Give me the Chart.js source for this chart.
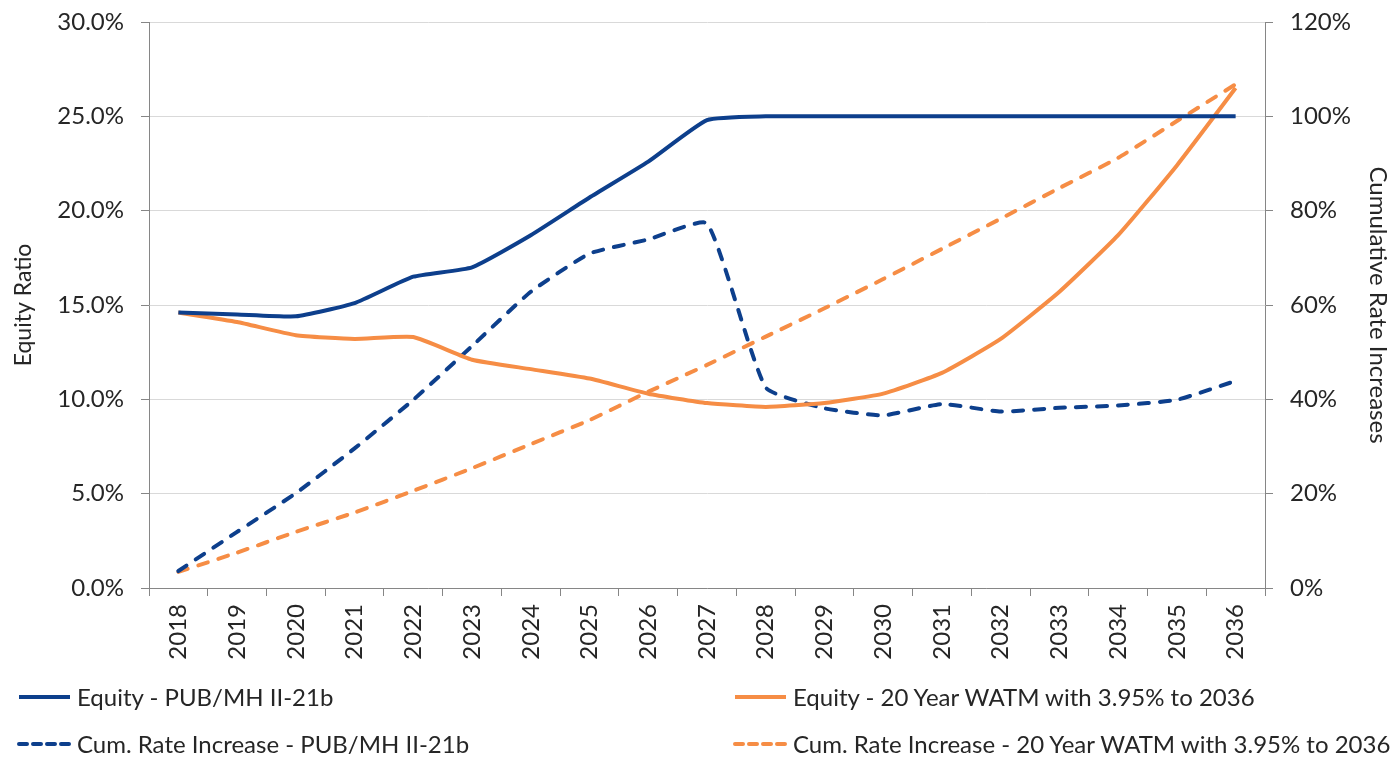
<!DOCTYPE html>
<html>
<head>
<meta charset="utf-8">
<title>Equity Ratio and Cumulative Rate Increases</title>
<script src="https://cdn.jsdelivr.net/npm/chart.js@4.4.1/dist/chart.umd.min.js"></script>
<style>
  body { margin: 0; background: #fff; font-family: Lato, sans-serif; }
  #wrap { position: relative; width: 1393px; height: 757px; }
  .leg { position: absolute; display: flex; align-items: center; font-size: 24px; color: #262626; white-space: nowrap; }
  .leg svg { margin-right: 4px; }
</style>
</head>
<body>
<div id="wrap">
  <canvas id="chart"></canvas>
  <div id="legend"></div>
</div>
<script>
// Years on the x axis
const YEARS = ['2018', '2019', '2020', '2021', '2022', '2023', '2024', '2025', '2026', '2027',
               '2028', '2029', '2030', '2031', '2032', '2033', '2034', '2035', '2036'];

// Equity ratio (%), left axis
const EQUITY_PUB  = [14.6, 14.5, 14.4, 15.1, 16.5, 17.0, 18.7, 20.7, 22.6, 24.8,
                     25.0, 25.0, 25.0, 25.0, 25.0, 25.0, 25.0, 25.0, 25.0];
const EQUITY_WATM = [14.6, 14.1, 13.4, 13.2, 13.3, 12.1, 11.6, 11.1, 10.3, 9.8,
                     9.6, 9.8, 10.3, 11.4, 13.2, 15.7, 18.7, 22.4, 26.5];

// Cumulative rate increases (%), right axis
const CUM_PUB  = [3.6, 11.9, 20.1, 29.6, 39.9, 51.3, 62.8, 70.9, 73.9, 77.3,
                  42.5, 38.1, 36.6, 39.0, 37.4, 38.2, 38.7, 39.9, 43.9];
const CUM_WATM = [3.4, 7.5, 11.9, 16.0, 20.6, 25.4, 30.5, 35.6, 41.6, 47.3,
                  53.3, 59.3, 65.5, 71.9, 78.3, 84.8, 91.2, 99.0, 106.8];

const BLUE = '#0d3f8c';
const ORANGE = '#f68d45';
const FONT = 'Lato, sans-serif';
const TEXT = '#262626';

const datasets = [
    { label: 'Equity - PUB/MH II-21b', data: EQUITY_PUB, yAxisID: 'y', borderColor: BLUE, dash: [] },
    { label: 'Equity - 20 Year WATM with 3.95% to 2036', data: EQUITY_WATM, yAxisID: 'y', borderColor: ORANGE, dash: [] },
    { label: 'Cum. Rate Increase - PUB/MH II-21b', data: CUM_PUB, yAxisID: 'y1', borderColor: BLUE, dash: [10, 11] },
    { label: 'Cum. Rate Increase - 20 Year WATM with 3.95% to 2036', data: CUM_WATM, yAxisID: 'y1', borderColor: ORANGE, dash: [10, 11] }
].map(d => ({
    label: d.label,
    data: d.data,
    yAxisID: d.yAxisID,
    borderColor: d.borderColor,
    backgroundColor: d.borderColor,
    borderDash: d.dash,
    borderWidth: 4,
    borderCapStyle: d.dash.length ? 'round' : 'butt',
    pointRadius: 0,
    tension: 0.15,
    fill: false
}));

// fix the axis box sizes so the plot area sits where the reference has it
function fixWidth(w) {
    return s => { s.width = w; s.paddingTop = 0; s.paddingBottom = 0; };
}

new Chart(document.getElementById('chart'), {
    type: 'line',
    data: { labels: YEARS, datasets: datasets },
    options: {
        responsive: true,
        maintainAspectRatio: false,
        animation: false,
        layout: { padding: { top: 22, left: 0, right: 0, bottom: 0 } },
        plugins: {
            legend: { display: false },
            tooltip: { enabled: false }
        },
        scales: {
            x: {
                offset: true,
                grid: { offset: true, drawOnChartArea: false, color: '#868686', tickLength: 8 },
                border: { color: '#868686' },
                ticks: { color: TEXT, font: { family: FONT, size: 24 }, minRotation: 90, maxRotation: 90, padding: 8 },
                afterFit: s => { s.height = 169; s.paddingTop = 0; }
            },
            y: {
                position: 'left',
                min: 0, max: 30,
                grid: { color: '#d9d9d9', tickColor: '#868686', tickLength: 8 },
                border: { color: '#868686' },
                ticks: { stepSize: 5, color: TEXT, padding: 17, font: { family: FONT, size: 24 },
                         callback: v => v.toFixed(1) + '%' },
                title: { display: true, text: 'Equity Ratio', color: TEXT, font: { family: FONT, size: 23 }, padding: { top: 10, bottom: 0 } },
                afterFit: fixWidth(149)
            },
            y1: {
                position: 'right',
                min: 0, max: 120,
                grid: { drawOnChartArea: false, color: '#868686', tickLength: 8 },
                border: { color: '#868686' },
                ticks: { stepSize: 20, color: TEXT, padding: 17, font: { family: FONT, size: 24 },
                         callback: v => v + '%' },
                title: { display: true, text: 'Cumulative Rate Increases', color: TEXT, font: { family: FONT, size: 24 }, padding: 1 },
                afterFit: fixWidth(128)
            }
        }
    }
});

// Legend in two columns below the chart
const LEGEND_SPOTS = [[16, 698], [732, 698], [16, 745], [732, 745]];
const legendBox = document.getElementById('legend');
datasets.forEach((d, i) => {
    const item = document.createElement('div');
    item.className = 'leg';
    item.style.left = LEGEND_SPOTS[i][0] + 'px';
    item.style.top = (LEGEND_SPOTS[i][1] - 16) + 'px';
    const dashed = d.borderDash.length > 0;
    item.innerHTML =
        `<svg width="57" height="12"><line x1="3" y1="6" x2="54" y2="6" stroke="${d.borderColor}" stroke-width="4"` +
        (dashed ? ` stroke-dasharray="8 6" stroke-linecap="round"` : '') + `/></svg><span>${d.label}</span>`;
    legendBox.appendChild(item);
});
</script>
</body>
</html>
